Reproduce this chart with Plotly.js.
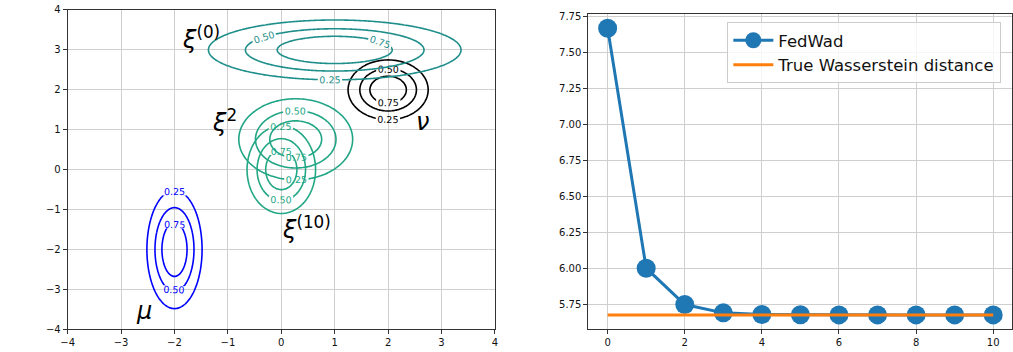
<!DOCTYPE html>
<html>
<head>
<meta charset="utf-8">
<script src="https://cdn.plot.ly/plotly-3.0.1.min.js"></script>
<style>
  html, body { margin: 0; padding: 0; background: #fff; }
  #chart { width: 1013px; height: 352px; }
</style>
</head>
<body>
<div id="chart"></div>
<script>
// Gaussian measures shown on the left panel (axis-aligned covariances)
const distKeys   = ['mu', 'nu', 'xi0', 'xi2', 'xi10'];
const meanX      = [-2.0, 2.0, 1.0, 0.27, 0.0];
const meanY      = [-2.0, 2.0, 3.0, 0.76, 0.0];
const stdX       = [0.31, 0.45, 1.42, 0.64, 0.385];
const stdY       = [0.89, 0.45, 0.45, 0.61, 0.66];
const distColors = ['#0000ff', '#000000', '#1f8f8b', '#20a585', '#22a884'];
const contourLevels = [0.25, 0.50, 0.75];

// Measure labels: text and anchor positions in data coordinates
const labelTexts = ['<i>μ</i>', '<i>ν</i>', '<i>ξ</i><sup>(0)</sup>', '<i>ξ</i><sup>2</sup>', '<i>ξ</i><sup>(10)</sup>'];
const labelX     = [-2.57, 2.64, -1.50, -1.07, 0.48];
const labelY     = [-3.55, 1.19, 3.30, 1.22, -1.45];

// FedWad iterates versus the exact Wasserstein distance
const iterations   = [0, 1, 2, 3, 4, 5, 6, 7, 8, 9, 10];
const fedwadValues = [7.667, 6.002, 5.750, 5.692, 5.681, 5.679, 5.678, 5.678, 5.678, 5.678, 5.678];
const trueDistance = 5.678;

const xTicksLeft  = [-4, -3, -2, -1, 0, 1, 2, 3, 4];
const yTicksLeft  = [-4, -3, -2, -1, 0, 1, 2, 3, 4];
const xTicksRight = [0, 2, 4, 6, 8, 10];
const yTicksRight = [5.75, 6.00, 6.25, 6.50, 6.75, 7.00, 7.25, 7.50, 7.75];

// evaluation grid for the density surfaces
const N = 241;
const gx = [], gy = [];
for (let i = 0; i < N; i++) {
  gx.push(-4 + 8 * i / (N - 1));
  gy.push(-4 + 8 * i / (N - 1));
}

function densityGrid(k) {
  const z = [];
  for (let j = 0; j < N; j++) {
    const row = [];
    const dy = (gy[j] - meanY[k]) / stdY[k];
    for (let i = 0; i < N; i++) {
      const dx = (gx[i] - meanX[k]) / stdX[k];
      row.push(Math.exp(-0.5 * (dx * dx + dy * dy)));  // density / peak density
    }
    z.push(row);
  }
  return z;
}

const traces = [];
distKeys.forEach((key, k) => {
  const c = distColors[k];
  traces.push({
    type: 'contour',
    name: key,
    x: gx, y: gy, z: densityGrid(k),
    xaxis: 'x', yaxis: 'y',
    showscale: false,
    showlegend: false,
    hoverinfo: 'skip',
    colorscale: [[0, c], [1, c]],
    autocontour: false,
    contours: {
      start: contourLevels[0],
      end: contourLevels[contourLevels.length - 1],
      size: contourLevels[1] - contourLevels[0],
      coloring: 'lines',
      showlabels: true,
      labelformat: '.2f',
      labelfont: { family: 'DejaVu Sans', size: 9.5, color: c }
    },
    line: { width: 1.6, smoothing: 1 }
  });
});

traces.push({
  type: 'scatter',
  mode: 'lines+markers',
  name: 'FedWad',
  x: iterations, y: fedwadValues,
  xaxis: 'x2', yaxis: 'y2',
  line: { color: '#1f77b4', width: 3 },
  marker: { color: '#1f77b4', size: 19 },
  hoverinfo: 'skip'
});
traces.push({
  type: 'scatter',
  mode: 'lines',
  name: 'True Wasserstein distance',
  x: [iterations[0], iterations[iterations.length - 1]],
  y: [trueDistance, trueDistance],
  xaxis: 'x2', yaxis: 'y2',
  line: { color: '#ff7f0e', width: 3 },
  hoverinfo: 'skip'
});

const axisCommon = {
  showline: true, mirror: true, linecolor: '#333', linewidth: 1,
  showgrid: true, gridcolor: '#cfcfcf', gridwidth: 1,
  zeroline: false,
  ticks: 'outside', ticklen: 4, tickwidth: 1, tickcolor: '#333',
  tickfont: { family: 'DejaVu Sans', size: 10, color: '#111' }
};

const annotations = labelTexts.map((t, k) => ({
  xref: 'x', yref: 'y', x: labelX[k], y: labelY[k],
  text: t, showarrow: false,
  font: { family: 'DejaVu Sans', size: 24, color: '#000' }
}));

const layout = {
  width: 1013, height: 352,
  margin: { l: 0, r: 0, t: 0, b: 0 },
  paper_bgcolor: '#fff', plot_bgcolor: '#fff',
  showlegend: true,
  font: { family: 'DejaVu Sans' },
  xaxis: Object.assign({}, axisCommon, {
    domain: [0.0668, 0.4886], range: [-4, 4],
    tickvals: xTicksLeft, anchor: 'y'
  }),
  yaxis: Object.assign({}, axisCommon, {
    domain: [0.0645, 0.9716], range: [-4, 4],
    tickvals: yTicksLeft, anchor: 'x'
  }),
  xaxis2: Object.assign({}, axisCommon, {
    domain: [0.5808, 0.9995], range: [-0.5, 10.5],
    tickvals: xTicksRight, anchor: 'y2'
  }),
  yaxis2: Object.assign({}, axisCommon, {
    domain: [0.0645, 0.9602], range: [5.578, 7.766],
    tickvals: yTicksRight, tickformat: '.2f', anchor: 'x2'
  }),
  legend: {
    x: 0.718, y: 0.9375, xanchor: 'left', yanchor: 'top',
    bgcolor: 'rgba(255,255,255,0.8)', bordercolor: '#cccccc', borderwidth: 1,
    font: { family: 'DejaVu Sans', size: 16.5, color: '#111' },
    tracegroupgap: 0, itemwidth: 40
  },
  annotations: annotations
};

Plotly.newPlot('chart', traces, layout, { staticPlot: true, displayModeBar: false });
</script>
</body>
</html>
